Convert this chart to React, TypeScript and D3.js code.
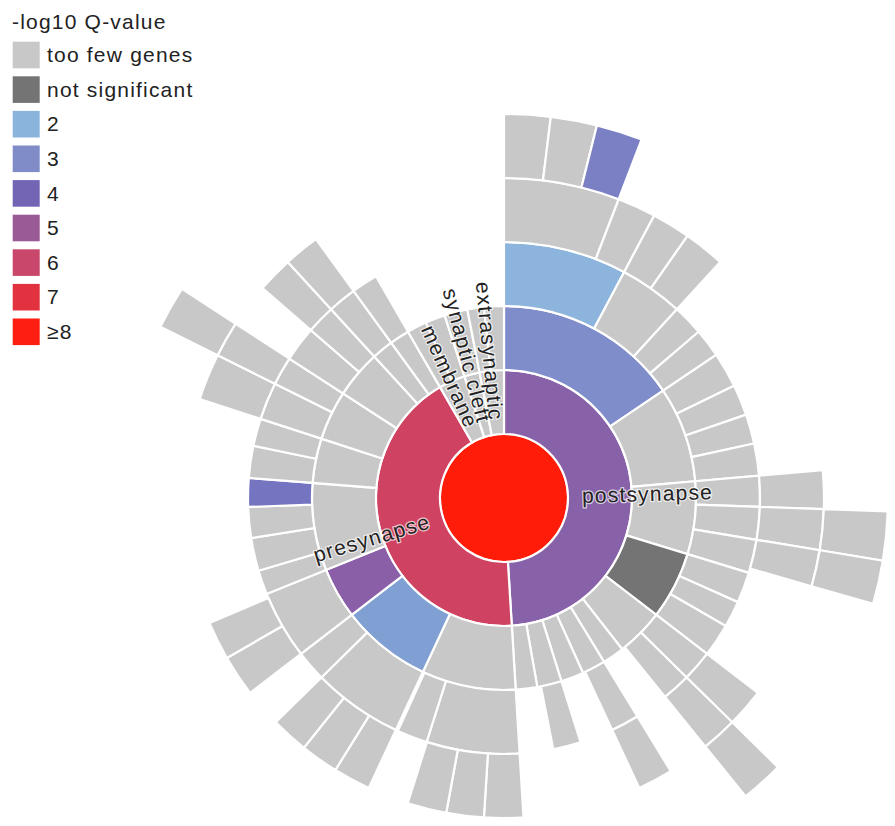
import React from 'react';
import * as d3 from 'd3';

const W = 895, H = 826;
const CX = 504, CY = 498, RING = 64;

// ---------- legend ----------
const legendTitle = '-log10 Q-value';
const legendLabels = ['too few genes', 'not significant', '2', '3', '4', '5', '6', '7', '≥8'];
const legendColors = ['#c8c8c8', '#747474', '#8ab4dc', '#7f8cc8', '#7464b4', '#9a5a96', '#c8476a', '#e2323f', '#ff1e12'];

// ---------- node colours ----------
const colorKeys: Record<string, string> = {
  g: '#c8c8c8', n: '#747474', lb: '#8cb4dc', b3: '#7f8dcb', b5: '#7b80c5',
  b2: '#80a0d4', p5: '#8a5fa8', b4: '#7474c0', post: '#8862a8', pre: '#cf4261', q8: '#ff1c08',
};

// ---------- hierarchy: [id, parent, size (genes), colour key] ----------
type Row = [string, string, number, string];
const level0: Row[] = [['synapse', '', 360, 'q8']];
const level1: Row[] = [
  ['postsynapse', 'synapse', 176.5, 'post'],
  ['presynapse', 'synapse', 153.5, 'pre'],
  ['membrane', 'synapse', 12, 'g'],
  ['synaptic cleft', 'synapse', 7, 'g'],
  ['extrasynaptic', 'synapse', 11, 'g'],
];
const level2: Row[] = [
  ['pa', 'postsynapse', 56, 'b3'], ['pb1', 'postsynapse', 29, 'g'], ['pb2', 'postsynapse', 22, 'g'],
  ['pc', 'postsynapse', 20.5, 'n'], ['pd', 'postsynapse', 14.5, 'g'], ['pe', 'postsynapse', 6.6, 'g'],
  ['pf', 'postsynapse', 7.1, 'g'], ['pg', 'postsynapse', 6.9, 'g'], ['ph', 'postsynapse', 7.4, 'g'],
  ['pi', 'postsynapse', 6.5, 'g'],
  ['qa', 'presynapse', 28.5, 'g'], ['qb', 'presynapse', 27.5, 'b2'], ['qc', 'presynapse', 15.5, 'p5'],
  ['qd', 'presynapse', 26.5, 'g'], ['qe', 'presynapse', 13.5, 'g'], ['qf', 'presynapse', 15, 'g'],
  ['qg', 'presynapse', 14.5, 'g'], ['qh', 'presynapse', 6.5, 'g'], ['qi', 'presynapse', 6, 'g'],
  ['ma', 'membrane', 6, 'g'], ['mb', 'membrane', 6, 'g'],
  ['ca', 'synaptic cleft', 7, 'g'],
  ['ea', 'extrasynaptic', 5, 'g'], ['eb', 'extrasynaptic', 6, 'g'],
];
const level3: Row[] = [
  ['pa1', 'pa', 28, 'lb'], ['pa2', 'pa', 14.5, 'g'], ['pa3', 'pa', 7, 'g'], ['pa4', 'pa', 6.5, 'g'],
  ['pb1a', 'pb1', 8, 'g'], ['pb1b', 'pb1', 7, 'g'], ['pb1c', 'pb1', 6.7, 'g'], ['pb1d', 'pb1', 7.3, 'g'],
  ['pb2a', 'pb2', 7, 'g'], ['pb2b', 'pb2', 7.4, 'g'], ['pb2c', 'pb2', 7.6, 'g'],
  ['pc1', 'pc', 7, 'g'], ['pc2', 'pc', 6, 'g'], ['pc3', 'pc', 7.5, 'g'],
  ['pd1', 'pd', 7, 'g'], ['pd2', 'pd', 6.5, 'g'],
  ['pf1', 'pf', 6.4, 'g'],
  ['ph1', 'ph', 6.3, 'g'],
  ['qa1', 'qa', 21.1, 'g'], ['qa2', 'qa', 6.9, 'g'],
  ['qb1', 'qb', 20.5, 'g'], ['qb2', 'qb', 7, 'g'],
  ['qc1', 'qc', 15.5, 'g'],
  ['qd1', 'qd', 5.5, 'g'], ['qd2', 'qd', 7.5, 'g'], ['qd3', 'qd', 7, 'g'], ['qd4', 'qd', 6.5, 'b4'],
  ['qe1', 'qe', 7.3, 'g'], ['qe2', 'qe', 6.2, 'g'],
  ['qf1', 'qf', 8.5, 'g'], ['qf2', 'qf', 6.5, 'g'],
  ['qg1', 'qg', 8, 'g'], ['qg2', 'qg', 6.5, 'g'],
  ['qh1', 'qh', 6.5, 'g'],
  ['qi1', 'qi', 6, 'g'],
];
const level4: Row[] = [
  ['pa1a', 'pa1', 21, 'g'], ['pa1b', 'pa1', 7, 'g'],
  ['pa2a', 'pa2', 7, 'g'], ['pa2b', 'pa2', 7.5, 'g'],
  ['pb2a1', 'pb2a', 7, 'g'], ['pb2b1', 'pb2b', 7.4, 'g'], ['pb2c1', 'pb2c', 6.6, 'g'],
  ['pd1a', 'pd1', 7, 'g'], ['pd2a', 'pd2', 6.5, 'g'],
  ['pf1a', 'pf1', 6.4, 'g'],
  ['qa1a', 'qa1', 7.1, 'g'], ['qa1b', 'qa1', 6.8, 'g'], ['qa1c', 'qa1', 7.1, 'g'],
  ['qb1a', 'qb1', 6.8, 'g'], ['qb1b', 'qb1', 6.9, 'g'], ['qb1c', 'qb1', 6.8, 'g'],
  ['qc1a', 'qc1', 7.5, 'g'], ['qc1b', 'qc1', 7, 'g'],
  ['qf1a', 'qf1', 8.5, 'g'], ['qf2a', 'qf2', 6.5, 'g'],
  ['qg2a', 'qg2', 6.5, 'g'],
  ['qh1a', 'qh1', 6.5, 'g'],
];
const level5: Row[] = [
  ['pa1a1', 'pa1a', 7, 'g'], ['pa1a2', 'pa1a', 7, 'g'], ['pa1a3', 'pa1a', 7, 'b5'],
  ['pb2b1a', 'pb2b1', 7.4, 'g'], ['pb2c1a', 'pb2c1', 6.6, 'g'],
  ['pd2a1', 'pd2a', 6.5, 'g'],
  ['qf2a1', 'qf2a', 6.5, 'g'],
];
const labelled = ['postsynapse', 'presynapse', 'membrane', 'synaptic cleft', 'extrasynaptic'];

const FONT = '"Liberation Sans", Arial, Helvetica, sans-serif';

export default function App() {
  const rows = [...level0, ...level1, ...level2, ...level3, ...level4, ...level5];
  const childSum: Record<string, number> = {};
  rows.forEach(r => { if (r[1]) childSum[r[1]] = (childSum[r[1]] || 0) + r[2]; });
  const data = rows.map(r => ({ id: r[0], parent: r[1] || null, own: Math.max(0, r[2] - (childSum[r[0]] || 0)), color: colorKeys[r[3]] }));
  const strat = d3.stratify<any>().id(d => d.id).parentId(d => d.parent)(data);
  const root = strat.sum((d: any) => d.own);
  d3.partition<any>().size([2 * Math.PI, 6])(root);
  const nodes = root.descendants() as any[];
  const arc = d3.arc<any>()
    .startAngle(d => d.x0).endAngle(d => d.x1)
    .innerRadius(d => d.y0 * RING).outerRadius(d => d.y1 * RING);

  return (
    <svg width={W} height={H} style={{ position: 'absolute', left: 0, top: 0, background: '#fff' }}>
      <g transform={`translate(${CX},${CY})`}>
        {nodes.map((d, i) => (
          d.depth === 0
            ? <circle key={i} r={RING} fill={d.data.color} stroke="#f4e8ee" strokeWidth={2} />
            : <path key={i} d={arc(d) || ''} fill={d.data.color} stroke="#fff" strokeWidth={2.2} />
        ))}
        {nodes.filter(d => labelled.includes(d.data.id)).map((d, i) => {
          const deg = ((d.x0 + d.x1) / 2) * 180 / Math.PI;
          const flip = deg > 180;
          return (
            <text key={'l' + i}
              transform={`rotate(${deg - 90}) translate(78,0) rotate(${flip ? 180 : 0})`}
              textAnchor={flip ? 'end' : 'start'} dominantBaseline="central"
              fontFamily={FONT} fontSize={21} letterSpacing={1.2} fill="#222"
              stroke="#fff" strokeWidth={2.5} strokeOpacity={0.7} paintOrder="stroke">
              {d.data.id}
            </text>
          );
        })}
      </g>
      <g fontFamily={FONT} fontSize={21} letterSpacing={1.2} fill="#222">
        <text x={12} y={29}>{legendTitle}</text>
        {legendLabels.map((l, i) => (
          <g key={l} transform={`translate(0,${41.7 + i * 34.6})`}>
            <rect x={12.7} y={0} width={27} height={26.6} fill={legendColors[i]} />
            <text x={47} y={20.5}>{l}</text>
          </g>
        ))}
      </g>
    </svg>
  );
}
